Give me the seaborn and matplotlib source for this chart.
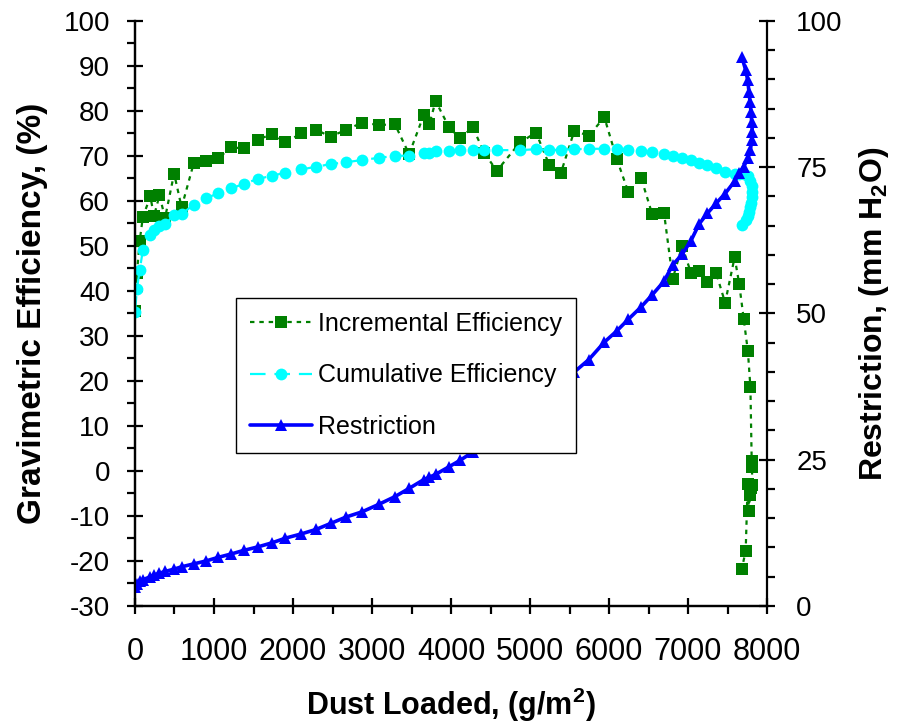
import matplotlib
matplotlib.use("Agg")
import matplotlib.pyplot as plt
from matplotlib.ticker import MultipleLocator
import seaborn as sns

# Dust loaded on the filter (g/m^2) at each measurement
dust_loaded = [
    0, 25, 60, 100, 195, 240, 310, 380, 495, 590,
    745, 900, 1050, 1220, 1375, 1555, 1735, 1905, 2100, 2295,
    2475, 2670, 2875, 3090, 3291, 3470, 3655, 3725, 3805, 3975,
    4115, 4275, 4420, 4580, 4873, 5076, 5244, 5392, 5561, 5743,
    5941, 6097, 6244, 6405, 6548, 6696, 6806, 6925, 7036, 7141,
    7244, 7354, 7470, 7590, 7648, 7705, 7758, 7790, 7806, 7814,
    7806, 7797, 7785, 7772, 7755, 7730, 7680,
]

# Incremental gravimetric efficiency (%)
incremental_eff = [
    35.6, 44.1, 51.2, 56.5, 61.0, 56.6, 61.3, 56.2, 66.1, 58.6,
    68.5, 68.8, 69.5, 71.9, 71.7, 73.6, 74.9, 73.0, 75.0, 75.8,
    74.3, 75.8, 77.4, 76.9, 77.0, 70.4, 79.1, 77.0, 82.2, 76.4,
    73.9, 76.4, 70.7, 66.7, 73.0, 75.2, 68.0, 66.3, 75.6, 74.5,
    78.6, 69.4, 62.0, 65.2, 57.0, 57.4, 42.7, 50.0, 44.1, 44.5,
    42.1, 44.1, 37.4, 47.5, 41.6, 33.8, 26.6, 18.6, 2.3, 0.9,
    -3.1, -3.7, -5.3, -8.8, -3.0, -17.8, -21.8,
]

# Cumulative gravimetric efficiency (%)
cumulative_eff = [
    35.4, 40.5, 44.7, 49.1, 52.4, 53.6, 54.4, 54.8, 56.8, 57.1,
    59.2, 60.6, 61.7, 62.8, 63.8, 64.9, 65.6, 66.3, 67.0, 67.6,
    68.2, 68.6, 69.1, 69.6, 70.0, 70.1, 70.6, 70.7, 71.0, 71.2,
    71.3, 71.3, 71.3, 71.3, 71.3, 71.5, 71.3, 71.4, 71.5, 71.6,
    71.6, 71.6, 71.3, 71.1, 70.8, 70.4, 70.0, 69.5, 69.1, 68.5,
    68.0, 67.3, 66.5, 65.9, 66.0, 66.0, 65.5, 64.5, 63.3, 62.0,
    60.8, 59.6, 58.6, 57.6, 56.7, 55.8, 54.7,
]

# Restriction across the filter (mm H2O)
restriction = [
    3.3, 3.8, 4.2, 4.5, 5.0, 5.3, 5.6, 5.9, 6.3, 6.7,
    7.2, 7.7, 8.3, 8.9, 9.5, 10.1, 10.8, 11.6, 12.3, 13.1,
    14.1, 15.2, 16.1, 17.4, 18.7, 20.1, 21.6, 22.0, 22.5, 23.8,
    24.9, 26.3, 27.5, 29.0, 31.5, 34.0, 36.3, 38.2, 40.0, 42.1,
    45.1, 47.0, 49.0, 51.1, 53.2, 55.5, 58.3, 60.1, 62.4, 65.3,
    67.1, 68.8, 70.5, 72.6, 74.0, 75.1, 76.5, 77.9, 79.7, 81.1,
    82.8, 84.5, 86.2, 87.9, 89.9, 91.6, 93.9,
]

x_ticks = list(range(0, 8001, 1000))
left_ticks = list(range(-30, 101, 10))
right_ticks = list(range(0, 101, 25))

sns.set_style("white")
plt.rcParams["font.family"] = ["Liberation Sans", "DejaVu Sans"]
plt.rcParams["mathtext.fontset"] = "custom"
plt.rcParams["mathtext.rm"] = "Liberation Sans"
plt.rcParams["mathtext.bf"] = "Liberation Sans:bold"
plt.rcParams["axes.unicode_minus"] = False
plt.rcParams["text.color"] = "black"
plt.rcParams["axes.labelcolor"] = "black"
plt.rcParams["xtick.color"] = "black"
plt.rcParams["ytick.color"] = "black"

GREEN = "#008000"
CYAN = "#00FFFF"
BLUE = "#0000FF"

fig = plt.figure(figsize=(9.03, 7.28), dpi=100)
ax = fig.add_axes([0.1495, 0.1676, 0.6999, 0.8036])
ax2 = ax.twinx()

sns.lineplot(x=dust_loaded, y=incremental_eff, ax=ax, sort=False, estimator=None,
             color=GREEN, marker="s", markersize=8, markeredgewidth=0,
             linewidth=1.6, linestyle=(0, (2, 2.2)), label="Incremental Efficiency",
             legend=False)
sns.lineplot(x=dust_loaded, y=cumulative_eff, ax=ax, sort=False, estimator=None,
             color=CYAN, marker="o", markersize=8.5, markeredgewidth=0,
             linewidth=1.6, linestyle=(0, (7, 4)), label="Cumulative Efficiency",
             legend=False)
sns.lineplot(x=dust_loaded, y=restriction, ax=ax2, sort=False, estimator=None,
             color=BLUE, marker="^", markersize=9, markeredgewidth=0,
             linewidth=2.6, linestyle="-", label="Restriction", legend=False)

ax.set_xlim(0, 8000)
ax.set_ylim(-30, 100)
ax2.set_ylim(0, 100)
ax.set_xticks(x_ticks)
ax.set_yticks(left_ticks)
ax2.set_yticks(right_ticks)
ax.xaxis.set_minor_locator(MultipleLocator(500))
ax.yaxis.set_minor_locator(MultipleLocator(5))
ax2.yaxis.set_minor_locator(MultipleLocator(5))

for a in (ax, ax2):
    for side in ("left", "right", "bottom"):
        a.spines[side].set_linewidth(1.6)
        a.spines[side].set_color("black")
    a.spines["top"].set_visible(False)
ax.spines["right"].set_visible(False)

ax.tick_params(axis="x", which="major", direction="inout", length=12, width=1.6,
               pad=16, bottom=True, top=False)
ax.tick_params(axis="x", which="minor", direction="out", length=6, width=1.6,
               bottom=True, top=False)
ax.tick_params(axis="y", which="major", direction="inout", length=12, width=1.6,
               labelsize=20, pad=12, left=True, right=False)
ax.tick_params(axis="y", which="minor", direction="out", length=6, width=1.6,
               left=True, right=False)
ax2.tick_params(axis="y", which="major", direction="inout", length=12, width=1.6,
                labelsize=20, pad=15, right=True, left=False)
ax2.tick_params(axis="y", which="minor", direction="out", length=6, width=1.6,
                right=True, left=False)
for lbl in ax.get_xticklabels():
    lbl.set_family(["Liberation Sans Narrow", "Liberation Sans"])
    lbl.set_fontsize(22)

ax.set_xlabel(r"Dust Loaded, (g/m$^{\mathbf{2}}$)", fontsize=22, fontweight="bold",
              labelpad=14)
ax.set_ylabel("Gravimetric Efficiency, (%)", fontsize=24, fontweight="bold",
              labelpad=11)
ax2.set_ylabel(r"Restriction, (mm H$_{\mathbf{2}}$O)", fontsize=23,
               fontweight="bold", labelpad=10)

handles = ax.get_lines() + ax2.get_lines()
leg = ax2.legend(handles=handles, labels=[h.get_label() for h in handles],
                 loc="upper left", bbox_to_anchor=(236 / 903, 1 - 298 / 728),
                 bbox_transform=fig.transFigure, borderaxespad=0,
                 fontsize=18, frameon=True, fancybox=False, shadow=False,
                 framealpha=1, edgecolor="black", handlelength=2.5,
                 handletextpad=0.25, labelspacing=1.1, borderpad=0.55)
leg.get_frame().set_linewidth(1.0)

fig.savefig("out.png", dpi=100, facecolor="white")
